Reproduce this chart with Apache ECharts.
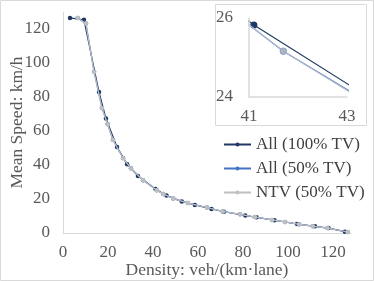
<!DOCTYPE html>
<html><head><meta charset="utf-8">
<script src="https://cdn.jsdelivr.net/npm/echarts@6/dist/echarts.min.js"></script>
<style>html,body{margin:0;padding:0;background:#fff}#c{width:374px;height:281px}</style>
</head><body><div id="c"></div>
<script>
const seriesNames = ['All (100% TV)', 'All (50% TV)', 'NTV (50% TV)'];
const all100X = [3.1, 9.3, 16.0, 19.1, 24.0, 28.5, 33.3, 41.1, 46.0, 52.8, 58.6, 66.0, 71.5, 81.0, 86.0, 94.0, 104.0, 112.0, 118.0, 125.3];
const all100Y = [126.5, 125.4, 83.0, 67.3, 50.6, 40.5, 33.5, 25.82, 22.0, 18.6, 16.5, 14.1, 12.5, 10.3, 9.2, 7.5, 5.3, 3.9, 2.9, 0.8];
const all50X = [6.5, 10.2, 13.8, 17.3, 19.8, 22.2, 26.7, 30.2, 35.6, 41.7, 44.6, 49.0, 55.5, 64.0, 71.0, 78.7, 85.3, 92.9, 98.7, 105.0, 111.0, 117.5, 126.5];
const all50Y = [126.4, 123.3, 94.9, 73.6, 64.1, 54.8, 44.1, 38.1, 31.0, 25.16, 23.0, 20.3, 17.6, 15.0, 12.7, 11.0, 9.4, 7.7, 6.5, 5.1, 4.0, 2.9, 0.6];
const ntvX = [6.5, 10.2, 13.8, 17.3, 19.8, 22.2, 26.7, 30.2, 35.6, 41.7, 44.6, 49.0, 55.5, 64.0, 71.0, 78.7, 85.3, 92.9, 98.7, 105.0, 111.0, 117.5, 126.5];
const ntvY = [126.4, 123.2, 94.7, 73.5, 64.0, 54.7, 44.0, 38.0, 31.0, 25.16, 22.95, 20.3, 17.6, 15.0, 12.7, 11.0, 9.4, 7.7, 6.5, 5.1, 4.0, 2.9, 0.6];
const xTicks = [0, 20, 40, 60, 80, 100, 120];
const yTicks = [0, 20, 40, 60, 80, 100, 120];
const insetXTicks = [41, 43];
const insetYTicks = [24, 26];

const colors = ['#1f3864', '#4472c4', '#bfbfbf'];
const font = 'Liberation Serif';
const fs = 17;
const zip = (xs, ys) => xs.map((x, i) => [x, ys[i]]);
const datasets = [zip(all100X, all100Y), zip(all50X, all50Y), zip(ntvX, ntvY)];

const chart = echarts.init(document.getElementById('c'), null, {renderer: 'canvas'});
const series = [];
datasets.forEach((d, i) => {
  series.push({
    name: seriesNames[i], type: 'line', xAxisIndex: 0, yAxisIndex: 0, data: d,
    symbol: 'circle', symbolSize: 4.5, showSymbol: true,
    lineStyle: {color: colors[i], width: 1.2},
    itemStyle: {color: colors[i], borderWidth: 0},
    z: 2 + i, animation: false
  });
});
datasets.forEach((d, i) => {
  series.push({
    name: seriesNames[i], type: 'line', xAxisIndex: 1, yAxisIndex: 1, data: d,
    symbol: 'circle', symbolSize: i === 0 ? 7 : 6.5, showSymbol: true, clip: true,
    lineStyle: {color: i === 2 ? '#b4bccb' : colors[i], width: 1.2},
    itemStyle: {color: i === 2 ? '#b0b4bc' : colors[i], borderColor: i === 2 ? '#8fa8d0' : colors[i], borderWidth: i === 2 ? 1 : 0},
    z: 12 + i, zlevel: 1, animation: false
  });
});

const axisCommon = {
  axisTick: {show: false}, splitLine: {show: false}, nameMoveOverlap: false
};
const lbl = (extra) => Object.assign({fontFamily: font, fontSize: fs, color: '#595959', hideOverlap: false}, extra);

chart.setOption({
  animation: false,
  textStyle: {fontFamily: font},
  graphic: [
    {type: 'rect', shape: {x: 0.5, y: 0.5, width: 373, height: 280}, style: {fill: 'none', stroke: '#d9d9d9', lineWidth: 1}, z: -10},
    {type: 'rect', zlevel: 1, z: 0, shape: {x: 215.5, y: 4.5, width: 151, height: 121}, style: {fill: '#fff', stroke: '#d9d9d9', lineWidth: 1}}
  ],
  legend: {
    data: seriesNames, orient: 'vertical', left: 223, top: 136, padding: 0,
    itemWidth: 27, itemHeight: 5, itemGap: 7,
    textStyle: {fontFamily: font, fontSize: fs, color: '#404040', lineHeight: 17},
    zlevel: 2
  },
  grid: [
    {left: 63, top: 12, width: 288, height: 221, outerBoundsMode: 'none', containLabel: false},
    {left: 249, top: 18, width: 98, height: 79, zlevel: 1, outerBoundsMode: 'none', containLabel: false}
  ],
  xAxis: [
    Object.assign({type: 'value', gridIndex: 0, min: 0, max: 128, interval: 20,
     name: 'Density: veh/(km·lane)', nameLocation: 'middle', nameGap: 28,
     nameTextStyle: {fontFamily: font, fontSize: 17.5, color: '#595959'},
     axisLine: {show: true, lineStyle: {color: '#d9d9d9', width: 1}},
     axisLabel: lbl({margin: 11, showMaxLabel: false,
       formatter: v => xTicks.includes(v) ? String(v) : ''})}, axisCommon),
    Object.assign({type: 'value', gridIndex: 1, min: insetXTicks[0], max: insetXTicks[1], interval: 2, zlevel: 1, z: 20,
     axisLine: {show: true, lineStyle: {color: '#d9d9d9', width: 1.5}},
     axisLabel: lbl({margin: 11,
       formatter: v => insetXTicks.includes(v) ? String(v) : ''})}, axisCommon)
  ],
  yAxis: [
    Object.assign({type: 'value', gridIndex: 0, min: 0, max: 130, interval: 20,
     name: 'Mean Speed: km/h', nameLocation: 'middle', nameGap: 37,
     nameTextStyle: {fontFamily: font, fontSize: 17.5, color: '#595959'},
     axisLine: {show: true, lineStyle: {color: '#d9d9d9', width: 1}},
     axisLabel: lbl({margin: 13, showMaxLabel: false,
       formatter: v => yTicks.includes(v) ? String(v) : ''})}, axisCommon),
    Object.assign({type: 'value', gridIndex: 1, min: insetYTicks[0], max: insetYTicks[1], interval: 2, zlevel: 1, z: 20,
     axisLine: {show: true, lineStyle: {color: '#d9d9d9', width: 1.5}},
     axisLabel: lbl({margin: 16,
       formatter: v => insetYTicks.includes(v) ? String(v) : ''})}, axisCommon)
  ],
  series: series
});
</script></body></html>
